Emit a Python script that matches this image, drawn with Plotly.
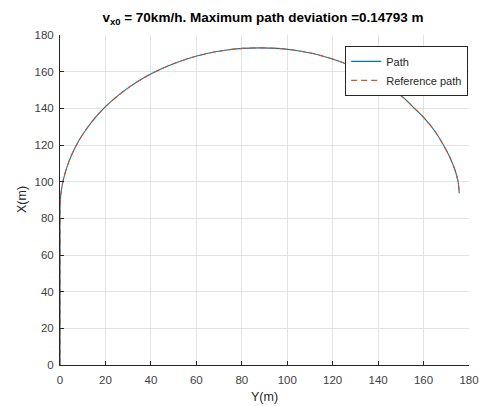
import plotly.graph_objects as go

# Path points (Y lateral, X longitudinal), in metres
path_y = [0, 0, 0, 0, 0.33, 1.34, 3.0, 5.3, 8.2, 11.8, 15.9, 20.6, 25.8, 31.4, 37.5,
          44.0, 50.8, 57.9, 65.2, 72.7, 80.3, 88.0, 95.7, 103.3, 110.8, 118.1, 125.2,
          132.0, 138.5, 145.0, 151.0, 156.0, 160.8, 165.0, 168.5, 171.5, 173.8, 175.2,
          175.7]
path_x = [0, 40, 70, 85, 92.7, 100.3, 107.8, 115.1, 122.2, 129.0, 135.5, 141.6, 147.2,
          152.4, 157.1, 161.2, 164.7, 167.7, 170.0, 171.7, 172.7, 173.0, 172.7, 171.7,
          170.0, 167.6, 164.6, 160.9, 156.6, 151.5, 146.0, 140.0, 134.0, 127.5, 120.5,
          113.5, 106.5, 100.0, 93.6]

# Reference path (visually identical to the path at this scale)
ref_y = list(path_y)
ref_x = list(path_x)

tick_vals = [0, 20, 40, 60, 80, 100, 120, 140, 160, 180]
tick_text = [str(v) for v in tick_vals]

FONT = "Liberation Sans, Arial, sans-serif"
AX = "#262626"

fig = go.Figure()
fig.add_trace(go.Scatter(x=path_y, y=path_x, mode="lines", name="Path",
                         line=dict(color="#0072BD", width=1.1, shape="spline", smoothing=0.8)))
fig.add_trace(go.Scatter(x=ref_y, y=ref_x, mode="lines", name="Reference path",
                         line=dict(color="#D95319", width=1.1, dash="6px,4px",
                                   shape="spline", smoothing=0.8)))

axis_common = dict(
    range=[0, 180], tickvals=tick_vals, ticktext=tick_text,
    showgrid=True, gridcolor="#e3e3e3", gridwidth=1,
    showline=True, linecolor=AX, linewidth=1, mirror=False,
    ticks="inside", ticklen=4, tickcolor=AX, tickwidth=1,
    tickfont=dict(family=FONT, size=11.5, color="#404040"),
    zeroline=False, fixedrange=True,
)

# The page body has an 8px margin, so the figure is sized/offset to compensate.
fig.update_layout(
    width=483, height=398,
    margin=dict(l=52, r=13, t=27, b=41),
    paper_bgcolor="white", plot_bgcolor="white",
    xaxis=dict(axis_common, ticklabelstandoff=4),
    yaxis=dict(axis_common, ticklabelstandoff=3),
    title=dict(text="<b>v<sub>x0</sub> = 70km/h. Maximum path deviation =0.14793 m</b>",
               x=0.528, xanchor="center",
               y=1 - 9 / 398, yanchor="middle", yref="container",
               font=dict(family=FONT, size=13.5, color="#000000")),
    legend=dict(x=0.998, xanchor="right", y=0.967, yanchor="top",
                bgcolor="white", bordercolor=AX, borderwidth=1,
                font=dict(family=FONT, size=11, color="#262626"),
                tracegroupgap=0),
    showlegend=True,
    annotations=[
        dict(text="Y(m)", xref="paper", yref="paper", x=0.5, y=0, yshift=-32,
             showarrow=False, xanchor="center", yanchor="middle",
             font=dict(family=FONT, size=12.5, color="#262626")),
        dict(text="X(m)", xref="paper", yref="paper", x=0, y=0.5, xshift=-38,
             showarrow=False, xanchor="center", yanchor="middle", textangle=-90,
             font=dict(family=FONT, size=12.5, color="#262626")),
    ],
)

fig.write_html("out.html")
